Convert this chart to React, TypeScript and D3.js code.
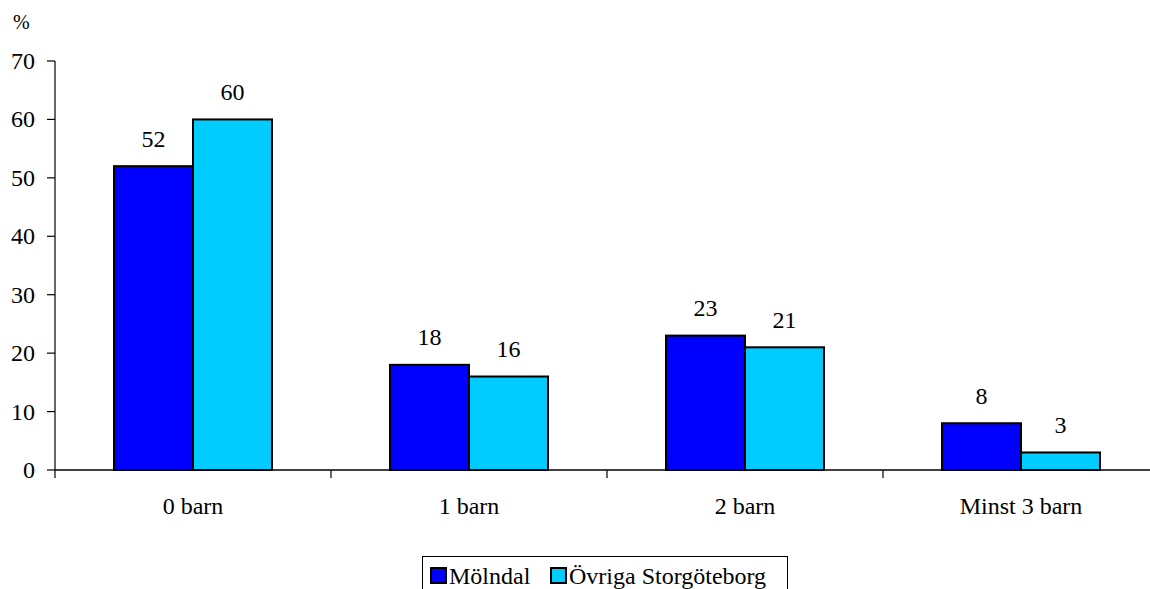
import React from "react";
import * as d3 from "d3";

const categories = ["0 barn", "1 barn", "2 barn", "Minst 3 barn"];
const seriesNames = ["Mölndal", "Övriga Storgöteborg"];
const molndal = [52, 18, 23, 8];
const ovriga = [60, 16, 21, 3];
const yTicks = [0, 10, 20, 30, 40, 50, 60, 70];
const colors = ["#0000FF", "#00CCFF"];

const FONT = "Liberation Serif";

function T({ x, y, anchor = "start", size = 24, children }: { x: number; y: number; anchor?: string; size?: number; children: React.ReactNode }) {
  const base = 20;
  const k = size / base;
  return (
    <text
      transform={`translate(${x},${y}) scale(${k})`}
      textAnchor={anchor}
      fontSize={base}
      style={{ fontFamily: FONT }}
    >
      {children}
    </text>
  );
}

export default function App() {
  const W = 1150, H = 589;
  const x0 = 55, yBottom = 470, yTop = 61;
  const band = 276;
  const x = d3.scaleBand<string>().domain(categories).range([x0, x0 + band * categories.length]).paddingInner(0).paddingOuter(0);
  const y = d3.scaleLinear().domain([0, 70]).range([yBottom, yTop]);
  const groupW = 158;
  const xs = d3.scaleBand<number>().domain([0, 1]).range([0, groupW]);
  const series = [molndal, ovriga];
  const legendX = [430, 550];

  return (
    <svg width={W} height={H} style={{ position: "absolute", left: 0, top: 0, background: "#fff" }}>
      <rect x={0} y={0} width={W} height={H} fill="#fff" />
      <T x={13} y={29} size={20}>%</T>
      {/* y axis */}
      <line x1={x0} x2={x0} y1={yTop} y2={yBottom} stroke="#000" strokeWidth={1.2} />
      {yTicks.map((t) => (
        <g key={t}>
          <line x1={x0 - 8} x2={x0} y1={y(t)} y2={y(t)} stroke="#000" strokeWidth={1.2} />
          <T x={35} y={y(t) + 8} anchor="end">{t}</T>
        </g>
      ))}
      {/* bars */}
      {categories.map((c, i) => {
        const gx = (x(c) as number) + (band - groupW) / 2;
        return (
          <g key={c}>
            {series.map((s, j) => {
              const bx = gx + (xs(j) as number);
              const bw = xs.bandwidth();
              return (
                <g key={j}>
                  <rect x={bx} y={y(s[i])} width={bw} height={yBottom - y(s[i])} fill={colors[j]} stroke="#000" strokeWidth={2} />
                  <T x={bx + bw / 2} y={y(s[i]) - 19.5} anchor="middle">{s[i]}</T>
                </g>
              );
            })}
          </g>
        );
      })}
      {/* x axis */}
      <line x1={x0} x2={x0 + band * categories.length} y1={yBottom} y2={yBottom} stroke="#000" strokeWidth={1.5} />
      {d3.range(categories.length + 1).map((k) => (
        <line key={k} x1={x0 + band * k} x2={x0 + band * k} y1={yBottom} y2={yBottom + 8} stroke="#000" strokeWidth={1.2} />
      ))}
      {categories.map((c) => (
        <T key={c} x={(x(c) as number) + band / 2} y={514} anchor="middle">{c}</T>
      ))}
      {/* legend */}
      <rect x={422.5} y={556.5} width={365} height={45} fill="#fff" stroke="#000" strokeWidth={1} />
      {seriesNames.map((n, j) => (
        <g key={n}>
          <rect x={legendX[j] + 1} y={568} width={15} height={15} fill={colors[j]} stroke="#000" strokeWidth={2} />
          <T x={legendX[j] + 19} y={584}>{n}</T>
        </g>
      ))}
    </svg>
  );
}
